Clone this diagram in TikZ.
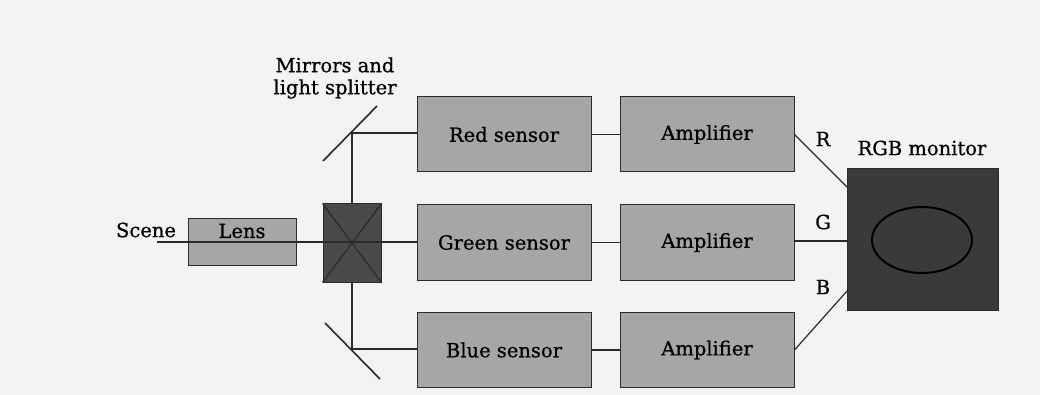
\documentclass[tikz,border=0pt]{standalone}
\usepackage{fontspec}
\setmainfont{DejaVu Serif}[FakeBold=0.7]
\usetikzlibrary{calc}
\definecolor{bg}{HTML}{F3F3F1}
\definecolor{boxfill}{HTML}{A6A6A4}
\definecolor{darkfill}{HTML}{4A4A4A}
\definecolor{monfill}{HTML}{3A3A3A}
\definecolor{ink}{HTML}{2A2A2A}
\tikzset{
  wire/.style={draw=ink, line width=1.2pt},
  blockbox/.style={draw=ink, line width=1pt, fill=boxfill, minimum width=174pt, minimum height=75pt, inner sep=0pt, font=\fontsize{19.5}{22}\selectfont},
  lensbox/.style={draw=ink, line width=1pt, fill=boxfill, minimum width=108pt, minimum height=46pt, inner sep=0pt},
  splitbox/.style={draw=ink, line width=1pt, fill=darkfill, minimum width=58pt, minimum height=78pt, inner sep=0pt},
  monbox/.style={draw=ink, line width=1pt, fill=monfill, minimum width=151pt, minimum height=141pt, inner sep=0pt},
  lbl/.style={font=\fontsize{19.5}{22}\selectfont, inner sep=0pt, text=black},
  mirror/.style={draw=ink, line width=1.6pt},
}
\begin{document}
\begin{tikzpicture}[x=1pt,y=-1pt]
\fill[bg] (0,0) rectangle (1040,395);
\useasboundingbox (0,0) rectangle (1040,395);

% mirrors
\coordinate (mt) at (352,133);
\coordinate (mb) at (352,349);
\coordinate (mt1) at (323,161); \coordinate (mt2) at (377,106);
\coordinate (mb1) at (325,323); \coordinate (mb2) at (380,379);
\draw[mirror] (mt1) -- (mt2);
\draw[mirror] (mb1) -- (mb2);
\draw[wire] (mt) -- (mb);

% blocks
\node[blockbox] (red) at (504,134.5) {Red sensor};
\node[blockbox] (green) at (504,242.5) {Green sensor};
\node[blockbox] (blue) at (504,350) {Blue sensor};
\node[blockbox] (ampr) at (707,134.5) {Amplifier};
\node[blockbox] (ampg) at (707,242.5) {Amplifier};
\node[blockbox] (ampb) at (707,350) {Amplifier};

\node[lensbox] (lens) at (242,242) {};
\node[lbl] (lenslbl) at (242,231) {Lens};
\node[splitbox] (split) at (352,243) {};
\node[monbox] (mon) at (922.5,239.5) {};

% splitter cross
\draw[wire] (split.north west) -- (split.south east);
\draw[wire] (split.north east) -- (split.south west);

% scene line
\node[lbl] (scene) at (146,230) {Scene};
\coordinate (scenein) at (157,242);
\draw[wire] (scenein) -- (green.west |- scenein);

% mirror to sensors
\draw[wire] (mt) -- (red.west |- mt);
\draw[wire] (mb) -- (blue.west |- mb);

% sensor to amplifier
\draw[wire] (red) -- (ampr);
\draw[wire] (green) -- (ampg);
\draw[wire] (blue) -- (ampb);

% amplifier to monitor
\coordinate (mr) at (847,187);
\coordinate (mg) at (847,241);
\coordinate (mbb) at (847,291);
\draw[wire] (ampr.east) -- (mr);
\draw[wire] (ampg.east |- mg) -- (mg);
\draw[wire] (ampb.east) -- (mbb);

\node[lbl] (R) at (823,139) {R};
\node[lbl] (G) at (823,222) {G};
\node[lbl] (B) at (823,287) {B};

% monitor screen
\draw[draw=black, line width=2pt] (922,240) ellipse (50 and 33);
\node[lbl] (monlbl) at (922,148) {RGB monitor};

% splitter label
\node[lbl, align=center] (mlbl) at (335,78) {Mirrors and\\light splitter};
\end{tikzpicture}
\end{document}
